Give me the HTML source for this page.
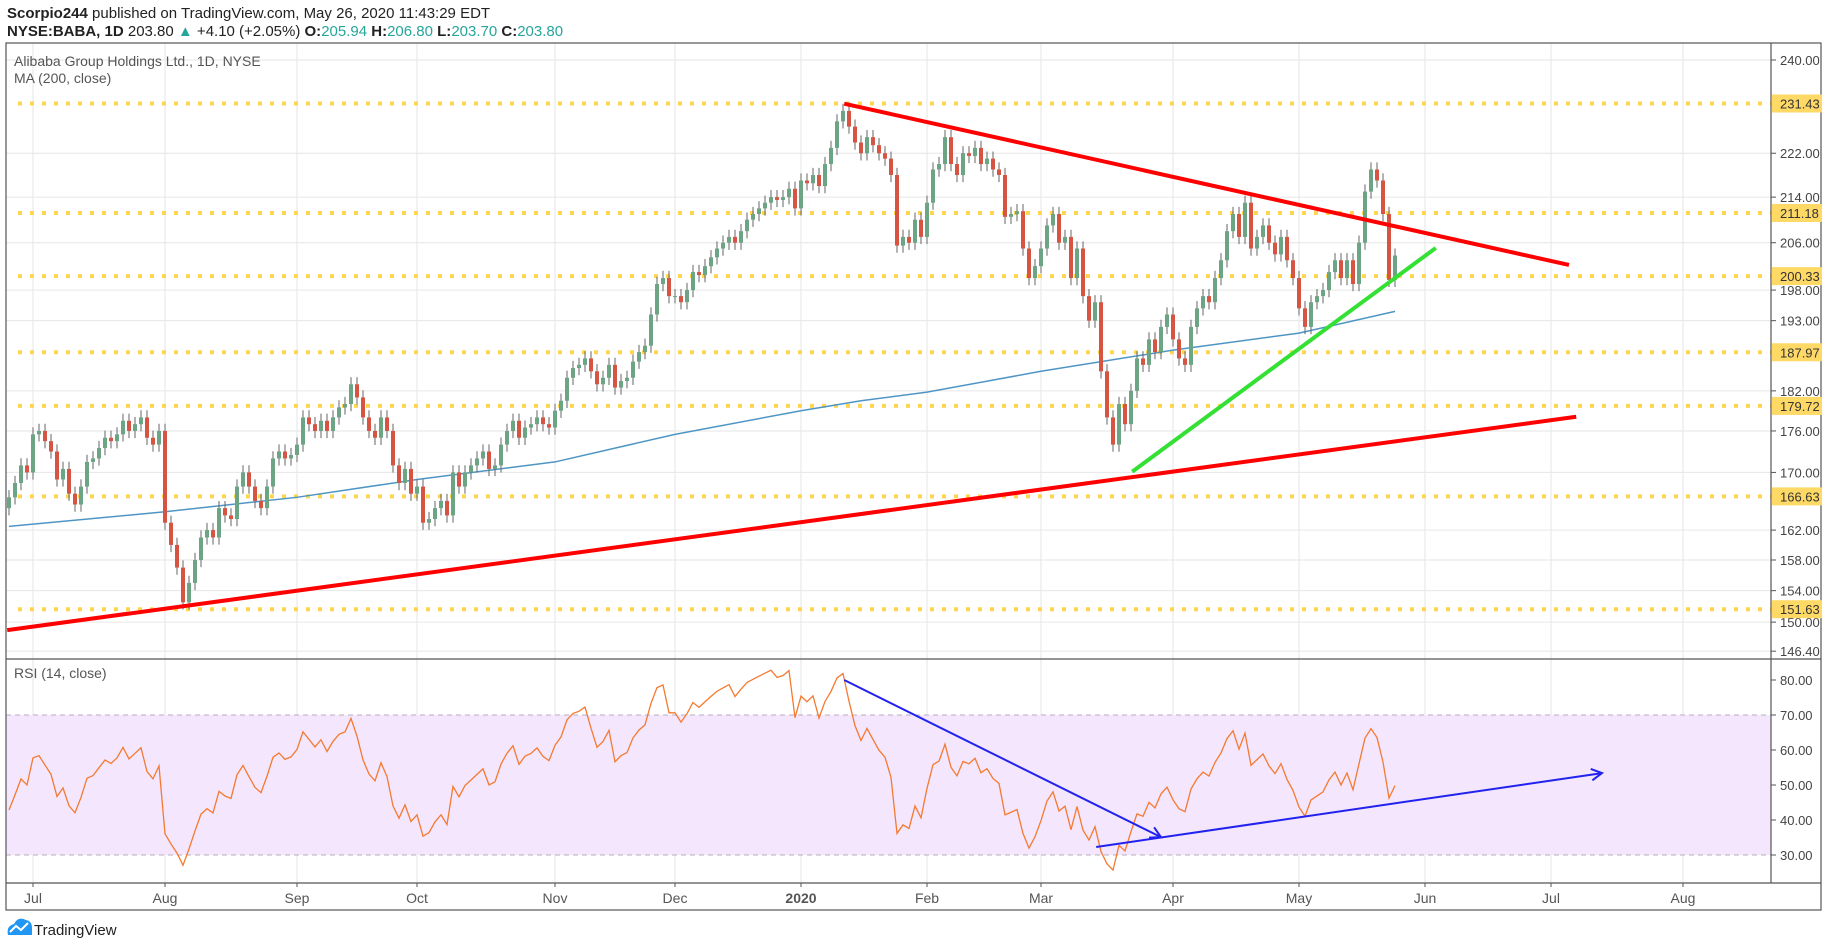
<!DOCTYPE html>
<html><head><meta charset="utf-8"><style>
body{margin:0;background:#fff;}
svg{display:block;font-family:"Liberation Sans",sans-serif;}
</style></head><body>
<svg id="chart" width="1828" height="947" viewBox="0 0 1828 947" xmlns="http://www.w3.org/2000/svg">
<defs><clipPath id="rsiclip"><rect x="6" y="660" width="1765" height="223"/></clipPath>
<clipPath id="priceclip"><rect x="6" y="43" width="1765" height="616"/></clipPath></defs>
<text x="7" y="18" font-size="15" fill="#222"><tspan font-weight="bold">Scorpio244</tspan> published on TradingView.com, May 26, 2020 11:43:29 EDT</text>
<text x="7" y="36" font-size="15" fill="#222"><tspan font-weight="bold">NYSE:BABA, 1D</tspan> 203.80 <tspan fill="#26a69a">▲</tspan> +4.10 (+2.05%) <tspan font-weight="bold">O:</tspan><tspan fill="#26a69a">205.94</tspan> <tspan font-weight="bold">H:</tspan><tspan fill="#26a69a">206.80</tspan> <tspan font-weight="bold">L:</tspan><tspan fill="#26a69a">203.70</tspan> <tspan font-weight="bold">C:</tspan><tspan fill="#26a69a">203.80</tspan></text>
<g id="grid"></g>
<rect id="band" x="6" fill="#f3e6fd"/>
<g id="levels"></g>
<g id="marks" clip-path="url(#priceclip)"></g>
<g id="rsimarks" clip-path="url(#rsiclip)"></g>
<g id="axes"></g>
<text x="14" y="66" font-size="14" fill="#555">Alibaba Group Holdings Ltd., 1D, NYSE</text>
<text x="14" y="83" font-size="14" fill="#555">MA (200, close)</text>
<text x="14" y="678" font-size="14" fill="#555">RSI (14, close)</text>
<g>
<path d="M8 935 Q6 926 14 924 Q18 916 26 920 Q32 921 32 928 L32 935 Z" fill="#2196f3"/>
<path d="M10 932 L16 926 L21 930 L28 923" stroke="#fff" stroke-width="2" fill="none"/>
<text x="34" y="935" font-size="15" fill="#222">TradingView</text>
</g>
</svg>
<script>
const startIndex=-14;
const closes=[170,168,171,167,169,166,168,165,167,165,
166.5,168.5,171,170,
175.5,176,174.5,173,169,170.5,167,165.5,168,171.5,172,173.5,175,174.5,175.5,177.5,176,177,178,175,174,176,
163,160,157,152.5,155,158,161,162,161,165,164,163.5,168,170,168,166,165,168,172,173,172,172.5,
174,178,177,176,177.5,176,178,179.5,180,183,181,178,176,175,178,176,171,168.5,170.5,167,
168,163,163.5,165,166,164,170,168,170,171,172,173,170.5,171,174,176,177.5,175,176.5,177,178,177,176.5,
179,180.5,184,185.5,186,187,185,183,184,186,182.5,183.5,184,186.5,188,189,194,199,200,197,
197,196,198,201,200.5,202,203.5,205,206,207,206,208,210,211,212,213,214,213.5,214,215.5,212,
217,216.5,218,216,220,223,228,230,227,224,222,225,223.5,222,221,218,205.5,207,206,210,207,
213,219,220,225,220,218,222,221.5,223,220,221,219,218,210.5,211,211.5,205,200,202,
205,209,211,206,207,200,205,197,193,196,185,178,174,180,177,182,187,186,190,188,192,194,
190,187,186,192,195,197,196,200,203,208,211,207,213,205,207,209,206,204,207,203,200,
195,192,196,197,198,201,203,200,203,199,206,215,219,217,211,199.7,203.8];
const maIdx=[-4,22,44,64,87,107,128,138,149,168,190,211,227];
const maVals=[162.5,164.5,166.5,169,171.5,175.5,179,180.5,181.8,185,188.3,191,194.5];
const levelVals=[231.43,211.18,200.33,187.97,179.72,166.63,151.63];
const priceTicks=[240,222,214,206,198,193,182,176,170,162,158,154,150,146.4];
const rsiTicks=[80,70,60,50,40,30];
const monthLabels=["Jul","Aug","Sep","Oct","Nov","Dec","2020","Feb","Mar","Apr","May","Jun","Jul","Aug"];
const monthIdx=[0,22,44,64,87,107,128,149,168,190,211,232,253,275];
const trendUpperIdx=[135.2,256];const trendUpperVal=[231.4,202.2];
const trendLowerIdx=[-4.3,257.2];const trendLowerVal=[149.0,178.1];
const trendGreenIdx=[183.2,233.8];const trendGreenVal=[170.1,205.1];
const rsiArrow1Idx=[135.2,188];const rsiArrow1Val=[80,35.1];
const rsiArrow2Idx=[177.2,261.5];const rsiArrow2Val=[32.3,53.4];

const NS="http://www.w3.org/2000/svg";
const L=6,R=1771,PT=43,PB=659,RT=660,RB=883;
const xs=i=>33+i*6;
const yp=p=>60+(Math.log(240)-Math.log(p))*1196;
const yr=v=>855-(v-30)*3.5;
function mk(parent,tag,attrs){const e=document.createElementNS(NS,tag);for(const k in attrs)e.setAttribute(k,attrs[k]);document.getElementById(parent).appendChild(e);return e;}
for(let m=0;m<monthIdx.length;m++){const g=mk('grid','line',{x1:xs(monthIdx[m]),x2:xs(monthIdx[m]),y1:PT,y2:RB,stroke:'#e6e6e6'});

}
priceTicks.forEach(t=>{const g=mk('grid','line',{x1:L,x2:R,y1:yp(t),y2:yp(t),stroke:'#e6e6e6'});

});
const band=document.getElementById('band');band.setAttribute('y',yr(70));band.setAttribute('width',R-L);band.setAttribute('height',yr(30)-yr(70));
[60,50,40].forEach(t=>{const g=mk('grid','line',{x1:L,x2:R,y1:yr(t),y2:yr(t),stroke:'#ddd0e8'});

});
[70,30].forEach(t=>{const g=mk('levels','line',{x1:L,x2:R,y1:yr(t),y2:yr(t),stroke:'#b8aebe','stroke-dasharray':'5 4'});

});
levelVals.forEach(v=>{const g=mk('levels','line',{x1:L+12,x2:R,y1:yp(v),y2:yp(v),stroke:'#ffd54f','stroke-width':4,'stroke-dasharray':'4 8'});

});
let pts=maIdx.map((k,j)=>xs(k)+','+yp(maVals[j])).join(' ');
const ma=mk('marks','polyline',{points:pts,fill:'none',stroke:'#4f95c4','stroke-width':1.5});


for(let j=0;j<closes.length;j++){
 const i=startIndex+j,c=closes[j],o=j>0?closes[j-1]:c-1;
 const up=c>=o,col=up?'#6ba583':'#d75442';
 const hi=Math.max(o,c)*1.006,lo=Math.min(o,c)*0.994;
 const w=mk('marks','line',{x1:xs(i),x2:xs(i),y1:yp(hi),y2:yp(lo),stroke:'#666','stroke-width':1});
 
 
 const top=yp(Math.max(o,c)),bot=yp(Math.min(o,c));
 const b=mk('marks','rect',{x:xs(i)-2,y:top,width:4,height:Math.max(1,bot-top),fill:col});
 
 
}
const rsi=[];let ag=0,al=0;
for(let j=1;j<closes.length;j++){const d=closes[j]-closes[j-1];const g=Math.max(d,0),l=Math.max(-d,0);
 const n=Math.min(j,14);ag=(ag*(n-1)+g)/n;al=(al*(n-1)+l)/n;
 if(j>=10) rsi.push([startIndex+j,al===0?100:100-100/(1+ag/al)]);}
const rl=mk('rsimarks','polyline',{points:rsi.map(p=>xs(p[0])+','+yr(p[1])).join(' '),fill:'none',stroke:'#f57a30','stroke-width':1.3});


function tl(par,ix,iv,f,col,w,name){const e=mk(par,'line',{x1:xs(ix[0]),y1:f(iv[0]),x2:xs(ix[1]),y2:f(iv[1]),stroke:col,'stroke-width':w});

return e;}
tl('marks',trendUpperIdx,trendUpperVal,yp,'#ff0000',4,'upper-trendline');
tl('marks',trendLowerIdx,trendLowerVal,yp,'#ff0000',4,'lower-trendline');
tl('marks',trendGreenIdx,trendGreenVal,yp,'#33e033',4,'support-trendline');
function arrow(ix,iv,name){tl('rsimarks',ix,iv,yr,'#2222ee',2,name);
 const x2=xs(ix[1]),y2=yr(iv[1]),x1=xs(ix[0]),y1=yr(iv[0]);const a=Math.atan2(y2-y1,x2-x1);
 const p=[[x2-12*Math.cos(a-0.5),y2-12*Math.sin(a-0.5)],[x2,y2],[x2-12*Math.cos(a+0.5),y2-12*Math.sin(a+0.5)]];
 const h=mk('rsimarks','polyline',{points:p.map(q=>q.join(',')).join(' '),fill:'none',stroke:'#2222ee','stroke-width':2});
 
 }
arrow(rsiArrow1Idx,rsiArrow1Val,'rsi-divergence-arrow');
arrow(rsiArrow2Idx,rsiArrow2Val,'rsi-support-arrow');
const fr=mk('axes','rect',{x:L,y:PT,width:1821-L,height:910-PT,fill:'none',stroke:'#555','stroke-width':1.2});


[[R,PT,R,RB],[L,PB,1821,PB],[L,RB,1821,RB]].forEach(a=>{const e=mk('axes','line',{x1:a[0],y1:a[1],x2:a[2],y2:a[3],stroke:'#555','stroke-width':1.2});

});
priceTicks.forEach(t=>{const e=mk('axes','text',{x:1780,y:yp(t)+5,'font-size':13,fill:'#444'});e.textContent=t.toFixed(2);


mk('axes','line',{x1:R,x2:R+5,y1:yp(t),y2:yp(t),stroke:'#555'});});
levelVals.forEach(v=>{const b=mk('axes','rect',{x:R+1,y:yp(v)-9,width:50,height:18,fill:'#ffd966'});


const e=mk('axes','text',{x:1780,y:yp(v)+5,'font-size':13,fill:'#333'});e.textContent=v.toFixed(2);

});
rsiTicks.forEach(t=>{const e=mk('axes','text',{x:1780,y:yr(t)+5,'font-size':13,fill:'#444'});e.textContent=t.toFixed(2);


mk('axes','line',{x1:R,x2:R+5,y1:yr(t),y2:yr(t),stroke:'#555'});});
monthLabels.forEach((m,k)=>{const e=mk('axes','text',{x:xs(monthIdx[k]),y:903,'font-size':14,fill:'#555','text-anchor':'middle','font-weight':m==='2020'?'bold':'normal'});e.textContent=m;


mk('axes','line',{x1:xs(monthIdx[k]),x2:xs(monthIdx[k]),y1:RB,y2:RB+4,stroke:'#555'});});
</script>
</body></html>
